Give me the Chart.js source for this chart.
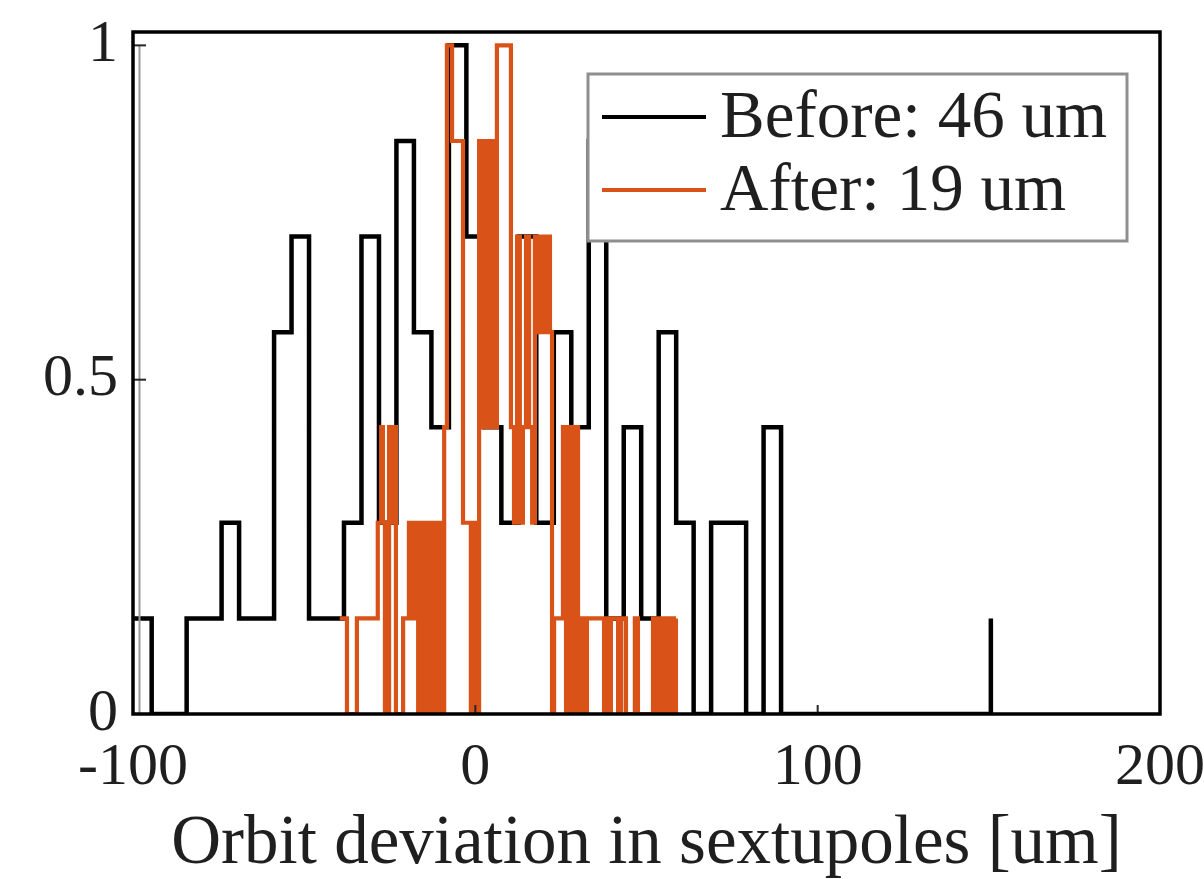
<!DOCTYPE html>
<html>
<head>
<meta charset="utf-8">
<script src="https://cdn.jsdelivr.net/npm/chart.js@4.4.0/dist/chart.umd.min.js"></script>
<style>
  html, body { margin: 0; padding: 0; background: #ffffff; }
  #wrap { width: 1204px; height: 879px; position: relative; }
</style>
</head>
<body>
<div id="wrap"><canvas id="c" width="1204" height="879"></canvas></div>
<script>
// ---- data ----
const seriesLabels = ['Before: 46 um', 'After: 19 um'];
const xTicks = [-100, 0, 100, 200];
const yTicks = [0, 0.5, 1];
const xTitle = 'Orbit deviation in sextupoles [um]';

// "Before" histogram: bin positions [um] and normalised counts
const beforeX = [-99.65, -94.54, -89.44, -84.33, -79.22, -74.12, -69.01, -63.90, -58.79, -53.69,
                 -48.58, -43.47, -38.37, -33.26, -28.15, -23.05, -17.94, -12.83, -7.72, -2.62,
                 2.49, 7.60, 12.70, 17.81, 22.92, 28.03, 33.13, 38.24, 43.35, 48.45,
                 53.56, 58.67, 63.77, 68.88, 73.99, 79.10, 84.20, 89.31, 94.42, 99.52,
                 104.63, 109.74, 114.84, 119.95, 125.06, 130.17, 135.27, 140.38, 145.49, 150.59];
const beforeY = [0.143, 0, 0, 0.143, 0.143, 0.286, 0.143, 0.143, 0.571, 0.714,
                 0.143, 0.143, 0.286, 0.714, 0.286, 0.857, 0.571, 0.429, 1, 0.714,
                 0.429, 0.286, 0.714, 0.286, 0.571, 0.429, 0.857, 0.143, 0.429, 0.143,
                 0.571, 0.286, 0, 0.286, 0.286, 0, 0.429, 0, 0, 0,
                 0, 0, 0, 0, 0, 0, 0, 0, 0, 0.143];

// "After" histogram: step positions [um] and normalised counts
const afterX = [-39.6, -37.5, -34.6, -28.5, -27.5, -27.0, -26.4, -25.2, -24.6, -24.0,
                -23.2, -21.1, -19.4, -18.5, -17.6, -16.7, -15.9, -15.0, -14.1, -13.3,
                -12.4, -11.5, -10.6, -10.0, -9.1, -8.3, -6.8, -3.6, -1.3, -0.4,
                0.5, 1.1, 2.0, 2.8, 3.7, 4.6, 5.5, 6.3, 10.4, 11.3,
                12.2, 13.0, 13.9, 14.8, 15.7, 16.6, 17.4, 18.3, 19.2, 20.1,
                20.9, 21.8, 22.4, 23.0, 25.6, 26.5, 27.4, 28.2, 29.1, 30.0,
                30.6, 31.8, 32.6, 37.6, 38.5, 39.1, 39.6, 41.7, 42.6, 44.0,
                46.6, 47.5, 51.9, 52.8, 53.7, 54.5, 55.4, 56.3, 57.2, 58.0,
                58.6];
const afterY = [0.143, 0, 0.143, 0.286, 0.429, 0.286, 0, 0.429, 0.286, 0.429,
                0, 0.143, 0.286, 0.143, 0.286, 0, 0.286, 0, 0.286, 0,
                0.286, 0, 0.286, 0, 0.429, 1, 0.857, 0.286, 0, 0.286,
                0, 0.857, 0.429, 0.857, 0.429, 0.857, 0.429, 1, 0.429, 0.286,
                0.714, 0.286, 0.429, 0.714, 0.429, 0.286, 0.714, 0.571, 0.714, 0.571,
                0.714, 0.571, 0, 0.143, 0.429, 0, 0.429, 0, 0.429, 0,
                0.143, 0, 0.143, 0, 0.143, 0, 0.143, 0, 0.143, 0,
                0.143, 0, 0.143, 0, 0.143, 0, 0.143, 0, 0.143, 0,
                0.143];

const colors = ['#000000', '#D95319'];
const FONT = "'Liberation Serif', 'Times New Roman', serif";
const TEXT = '#1f1f1f';

const toPts = (xs, ys) => xs.map((v, i) => ({ x: v, y: ys[i] }));

// ---- decoration: inward ticks, y-axis line, legend box, frame ----
const decor = {
  id: 'decor',
  afterDatasetsDraw(chart) {
    const { ctx, chartArea: a, scales: { x, y } } = chart;
    ctx.save();
    // thin grey y axis line (as in the reference)
    ctx.strokeStyle = '#9a9a9a';
    ctx.lineWidth = 2;
    ctx.beginPath();
    ctx.moveTo(a.left + 6.5, y.getPixelForValue(1));
    ctx.lineTo(a.left + 6.5, y.getPixelForValue(0));
    ctx.stroke();
    // inward tick marks
    ctx.strokeStyle = '#262626';
    ctx.lineWidth = 2;
    xTicks.forEach(v => {
      const px = x.getPixelForValue(v);
      ctx.beginPath(); ctx.moveTo(px, a.bottom); ctx.lineTo(px, a.bottom - 9); ctx.stroke();
    });
    yTicks.forEach(v => {
      const py = y.getPixelForValue(v);
      ctx.beginPath(); ctx.moveTo(a.left, py); ctx.lineTo(a.left + 13, py); ctx.stroke();
    });
    // legend
    const L = a.left + 455, T = a.top + 42, R = a.right - 33, B = a.top + 209;
    ctx.fillStyle = '#ffffff';
    ctx.fillRect(L, T, R - L, B - T);
    ctx.strokeStyle = '#8f8f8f';
    ctx.lineWidth = 3;
    ctx.strokeRect(L, T, R - L, B - T);
    const rowsY = [T + 43, T + 116];
    chart.data.datasets.forEach((ds, i) => {
      ctx.strokeStyle = ds.borderColor;
      ctx.lineWidth = 4;
      ctx.beginPath();
      ctx.moveTo(L + 14, rowsY[i]);
      ctx.lineTo(L + 118, rowsY[i]);
      ctx.stroke();
      ctx.fillStyle = TEXT;
      ctx.font = '67px ' + FONT;
      ctx.textAlign = 'left';
      ctx.textBaseline = 'alphabetic';
      ctx.fillText(ds.label, L + 132, rowsY[i] + 20);
    });
    // plot frame
    ctx.strokeStyle = '#000000';
    ctx.lineWidth = 3.5;
    ctx.strokeRect(a.left, a.top, a.right - a.left, a.bottom - a.top);
    ctx.restore();
  }
};

new Chart(document.getElementById('c'), {
  type: 'line',
  data: {
    datasets: [
      {
        label: seriesLabels[0],
        data: toPts(beforeX, beforeY),
        borderColor: colors[0],
        borderWidth: 4.5,
        stepped: 'before',
        pointRadius: 0,
        fill: false,
        order: 2
      },
      {
        label: seriesLabels[1],
        data: toPts(afterX, afterY),
        borderColor: colors[1],
        borderWidth: 4.2,
        stepped: 'before',
        pointRadius: 0,
        fill: false,
        order: 1
      }
    ]
  },
  options: {
    responsive: false,
    animation: false,
    devicePixelRatio: 1,
    layout: { padding: { top: 32, right: 44, left: 0, bottom: 0 } },
    plugins: { legend: { display: false }, tooltip: { enabled: false } },
    scales: {
      x: {
        type: 'linear',
        min: -100, max: 200,
        afterFit: s => { s.height = 165; s.paddingLeft = 0; s.paddingRight = 0; },
        afterBuildTicks: s => { s.ticks = xTicks.map(v => ({ value: v })); },
        grid: { display: false, drawTicks: false },
        border: { display: false },
        ticks: {
          padding: 18,
          color: TEXT,
          font: { family: FONT, size: 60 },
          maxRotation: 0,
          callback: v => String(v)
        },
        title: {
          display: true,
          text: xTitle,
          color: TEXT,
          font: { family: FONT, size: 69, lineHeight: 1 },
          padding: { top: 0, bottom: 0 }
        }
      },
      y: {
        type: 'linear',
        min: 0, max: 1.02,
        afterFit: s => { s.width = 133; s.paddingTop = 0; s.paddingBottom = 0; },
        afterBuildTicks: s => { s.ticks = yTicks.map(v => ({ value: v })); },
        grid: { display: false, drawTicks: false },
        border: { display: false },
        ticks: {
          padding: 15,
          color: TEXT,
          font: { family: FONT, size: 60 },
          callback: v => String(v)
        }
      }
    }
  },
  plugins: [decor]
});
</script>
</body>
</html>
